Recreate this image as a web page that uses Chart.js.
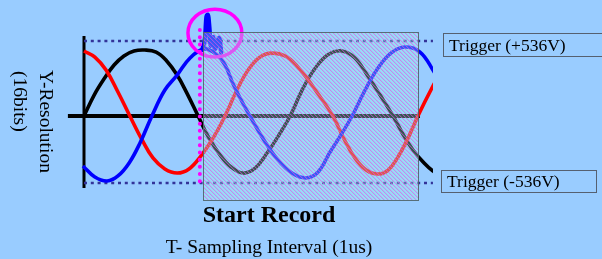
<!DOCTYPE html>
<html><head><meta charset="utf-8">
<script src="https://cdn.jsdelivr.net/npm/chart.js@4/dist/chart.umd.min.js"></script>
<style>html,body{margin:0;padding:0;background:#99CCFF;overflow:hidden}canvas{display:block}</style>
</head><body>
<canvas id="c" width="602" height="259"></canvas>
<script>
// ---- data (time in µs, amplitude in V) ----
const BLACK_T = [0, 2.9, 5.7, 8.6, 11.4, 14.3, 17.4, 20.6, 23.4, 26.6, 29.4, 32.6, 35.7, 38.9, 42.0, 45.4, 48.9, 52.3, 55.7, 58.9, 62.6, 66.3, 70.0, 73.7, 77.4, 81.1, 84.6, 88.3, 91.1, 94.0, 96.9, 99.7, 102.6];
const BLACK_V = [-30, 128, 249, 355, 423, 461, 468, 453, 393, 279, 143, -30, -196, -325, -415, -461, -423, -310, -174, -30, 181, 340, 438, 461, 408, 272, 128, -30, -166, -287, -378, -445, -483];

const RED_T = [0, 3.1, 6.3, 9.7, 13.1, 16.6, 19.7, 23.1, 26.6, 30.0, 33.4, 36.9, 40.3, 43.7, 46.9, 50.3, 53.7, 58.0, 62.3, 66.9, 71.1, 74.3, 77.4, 80.6, 84.0, 86.9, 89.7, 92.6, 95.4, 99.7, 101.7];
const RED_V = [461, 415, 317, 151, -30, -211, -347, -430, -461, -430, -332, -196, -30, 166, 317, 415, 445, 415, 302, 136, -30, -204, -347, -438, -468, -438, -340, -196, -30, 196, 287];

const BLUE_T = [-0.3, 3.1, 6.6, 9.7, 12.9, 16.0, 19.4, 23.1, 26.6, 30.3, 34.3, 37.7, 40.3, 42.6, 44.9, 47.4, 51.4, 55.4, 59.4, 63.4, 66.9, 70.3, 73.4, 76.6, 80.3, 84.0, 87.7, 91.7, 96.0, 99.7, 102.0];
const BLUE_V = [-408, -491, -521, -483, -385, -234, -30, 166, 279, 408, 476, 438, 355, 211, 91, -30, -211, -362, -461, -498, -453, -302, -174, -30, 166, 332, 445, 491, 453, 317, 204];

// glitch riding on the blue peak
const GLITCH_T = [33.8, 34.6, 35.0, 35.4, 35.8, 36.2, 36.9, 37.4, 38.6, 39.2];
const GLITCH_V = [470, 560, 720, 735, 640, 500, 566, 475, 560, 450];

const TRIGGER_LEVELS = [536, -536];
const TRIGGER_LABELS = ['Trigger (+536V)', 'Trigger (-536V)'];
const TRIGGER_T = [0, 99.7];
const AXIS_V = [-574, 574];
const BASELINE_V = -30;
const BASELINE_T = [-4.6, 96];
const RECORD_T = [34, 95.4];
const RECORD_V = [-664, 604];
const START_T = 33.1;
const START_V = [-536, 619];
const GLITCH_CENTER = [37.4, 596];
const GLITCH_RADIUS = [7.7, 181];
const WAVE_END_T = 99.7;
const Y_TITLE = ['Y-Resolution', '(16bits)'];
const RECORD_LABEL = 'Start Record';
const X_TITLE = 'T- Sampling Interval (1us)';

const zip = (t, v) => t.map((x, i) => ({x, y: v[i]}));

const wave = (label, t, v, color) => ({
  label, data: zip(t, v), borderColor: color, borderWidth: 3.6, pointRadius: 0,
  tension: 0.4, borderJoinStyle: 'round', fill: false, wave: true
});

const datasets = [
  {label: 'start', data: [{x: START_T, y: START_V[1]}, {x: START_T, y: START_V[0]}], borderColor: '#FF00FF', borderWidth: 4, borderDash: [0, 7.2], borderCapStyle: 'round', pointRadius: 0},
  {label: 'glitch', data: zip(GLITCH_T, GLITCH_V), borderColor: '#0000FF', borderWidth: 4.5, pointRadius: 0, cubicInterpolationMode: 'monotone', borderJoinStyle: 'round', borderCapStyle: 'round', wave: true},
  wave('blue', BLUE_T, BLUE_V, '#0000FF'),
  wave('red', RED_T, RED_V, '#FF0000'),
  wave('black', BLACK_T, BLACK_V, '#000000'),
  {label: 'trig+', data: TRIGGER_T.map(x => ({x, y: TRIGGER_LEVELS[0]})), borderColor: '#333399', borderWidth: 2.6, borderDash: [3, 3.8], pointRadius: 0},
  {label: 'trig-', data: TRIGGER_T.map(x => ({x, y: TRIGGER_LEVELS[1]})), borderColor: '#333399', borderWidth: 2.6, borderDash: [3, 3.8], pointRadius: 0},
  {label: 'yaxis', data: AXIS_V.map(y => ({x: 0, y})), borderColor: '#000', borderWidth: 3, pointRadius: 0},
  {label: 'xaxis', data: BASELINE_T.map(x => ({x, y: BASELINE_V})), borderColor: '#000', borderWidth: 4, pointRadius: 0}
];

// pattern for hatched record window
const pat = document.createElement('canvas');
pat.width = 4; pat.height = 4;
(function () {
  const p = pat.getContext('2d');
  for (let y = 0; y < 4; y++) for (let x = 0; x < 4; x++) {
    const d = ((x - y) % 4 + 4) % 4;
    if (d === 0) { p.fillStyle = 'rgba(225,80,235,0.6)'; p.fillRect(x, y, 1, 1); }
    if (d === 1) { p.fillStyle = 'rgba(225,80,235,0.2)'; p.fillRect(x, y, 1, 1); }
  }
})();

const deco = {
  id: 'deco',
  beforeDraw(chart) {
    const c = chart.ctx;
    c.save(); c.fillStyle = '#99CCFF'; c.fillRect(0, 0, chart.width, chart.height); c.restore();
  },
  beforeDatasetDraw(chart, args) {
    const ds = chart.data.datasets[args.index];
    if (!ds.wave) return;
    const c = chart.ctx, xs = chart.scales.x;
    c.save();
    c.beginPath();
    c.rect(0, 0, xs.getPixelForValue(WAVE_END_T), chart.height);
    c.clip();
  },
  afterDatasetDraw(chart, args) {
    const ds = chart.data.datasets[args.index];
    if (!ds.wave) return;
    chart.ctx.restore();
  },
  afterDatasetsDraw(chart) {
    const c = chart.ctx, xs = chart.scales.x, ys = chart.scales.y;
    const cx = xs.getPixelForValue(GLITCH_CENTER[0]), cy = ys.getPixelForValue(GLITCH_CENTER[1]);
    const rx = Math.abs(xs.getPixelForValue(GLITCH_CENTER[0] + GLITCH_RADIUS[0]) - cx);
    const ry = Math.abs(ys.getPixelForValue(GLITCH_CENTER[1] + GLITCH_RADIUS[1]) - cy);
    c.save();
    c.strokeStyle = '#FF00FF'; c.lineWidth = 3.5;
    c.beginPath(); c.ellipse(cx, cy, rx, ry, 0, 0, Math.PI * 2); c.stroke();
    const x0 = Math.round(xs.getPixelForValue(RECORD_T[0])), x1 = Math.round(xs.getPixelForValue(RECORD_T[1]));
    const y0 = Math.round(ys.getPixelForValue(RECORD_V[1])), y1 = Math.round(ys.getPixelForValue(RECORD_V[0]));
    c.fillStyle = 'rgba(150,255,225,0.35)';
    c.fillRect(x0, y0, x1 - x0, y1 - y0);
    c.fillStyle = c.createPattern(pat, 'repeat');
    c.fillRect(x0, y0, x1 - x0, y1 - y0);
    c.strokeStyle = 'rgba(80,100,105,0.9)'; c.lineWidth = 1;
    c.strokeRect(x0 + 0.5, y0 + 0.5, x1 - x0, y1 - y0);
    c.restore();
  },
  afterDraw(chart) {
    const c = chart.ctx, ys = chart.scales.y;
    c.save();
    c.fillStyle = '#000';
    c.font = '19.5px "Liberation Serif", "Times New Roman", serif';
    c.textAlign = 'left'; c.textBaseline = 'middle';
    c.save(); c.translate(45, 70); c.rotate(Math.PI / 2); c.fillText(Y_TITLE[0], 0, 0); c.restore();
    c.save(); c.translate(19, 71); c.rotate(Math.PI / 2); c.fillText(Y_TITLE[1], 0, 0); c.restore();
    c.textBaseline = 'alphabetic'; c.textAlign = 'center';
    c.font = 'bold 24px "Liberation Serif", "Times New Roman", serif';
    c.fillText(RECORD_LABEL, 269, 222);
    c.font = '19.5px "Liberation Serif", "Times New Roman", serif';
    c.fillText(X_TITLE, 269, 253);
    c.textAlign = 'left';
    c.font = '17.5px "Liberation Serif", "Times New Roman", serif';
    c.strokeStyle = '#556070'; c.lineWidth = 1;
    const tp = ys.getPixelForValue(TRIGGER_LEVELS[0]);
    c.strokeRect(443.5, Math.round(tp) - 7.5, 160, 23);
    c.fillText(TRIGGER_LABELS[0], 449, Math.round(tp) + 10);
    const bp = ys.getPixelForValue(TRIGGER_LEVELS[1]);
    c.strokeRect(441.5, Math.round(bp) - 12.5, 155, 22);
    c.fillText(TRIGGER_LABELS[1], 447, Math.round(bp) + 4);
    c.restore();
  }
};

new Chart(document.getElementById('c'), {
  type: 'line',
  data: {datasets},
  options: {
    responsive: false, animation: false, devicePixelRatio: 1,
    layout: {padding: 0},
    plugins: {legend: {display: false}, tooltip: {enabled: false}, title: {display: false}},
    scales: {
      x: {type: 'linear', min: -24, max: 148, display: false},
      y: {type: 'linear', min: -1110, max: 846, display: false}
    }
  },
  plugins: [deco]
});
</script>
</body></html>
